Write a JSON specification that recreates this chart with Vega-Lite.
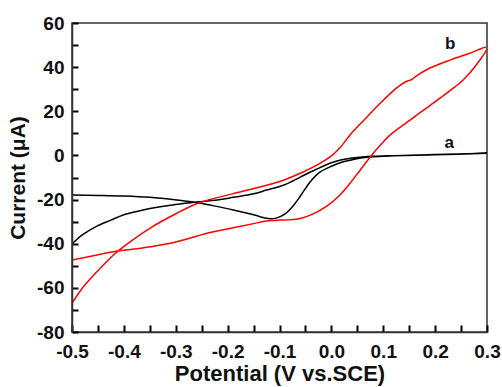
{
  "$schema": "https://vega.github.io/schema/vega-lite/v6.json",
  "width": 415,
  "height": 309,
  "autosize": {"type": "none"},
  "padding": {"left": 72, "top": 23, "right": 15, "bottom": 55},
  "background": "white",
  "config": {
    "view": {"stroke": "#333333", "strokeWidth": 1.5},
    "font": "Liberation Sans",
    "axis": {
      "grid": false,
      "labelFont": "Liberation Sans",
      "labelFontWeight": "bold",
      "labelFontSize": 19,
      "labelColor": "#111111",
      "titleFont": "Liberation Sans",
      "titleFontWeight": "bold",
      "titleColor": "#111111",
      "labelFlush": false,
      "labelOverlap": false
    }
  },
  "datasets": {
    "curves": [
      {"s": "a", "o": 1, "V": -0.5, "I": -40.1},
      {"s": "a", "o": 2, "V": -0.48, "I": -36.0},
      {"s": "a", "o": 3, "V": -0.452, "I": -32.0},
      {"s": "a", "o": 4, "V": -0.425, "I": -29.3},
      {"s": "a", "o": 5, "V": -0.401, "I": -27.0},
      {"s": "a", "o": 6, "V": -0.375, "I": -25.4},
      {"s": "a", "o": 7, "V": -0.35, "I": -24.0},
      {"s": "a", "o": 8, "V": -0.3, "I": -22.2},
      {"s": "a", "o": 9, "V": -0.26, "I": -21.1},
      {"s": "a", "o": 10, "V": -0.22, "I": -20.2},
      {"s": "a", "o": 11, "V": -0.189, "I": -19.0},
      {"s": "a", "o": 12, "V": -0.15, "I": -17.4},
      {"s": "a", "o": 13, "V": -0.125, "I": -15.7},
      {"s": "a", "o": 14, "V": -0.09, "I": -13.3},
      {"s": "a", "o": 15, "V": -0.06, "I": -9.8},
      {"s": "a", "o": 16, "V": -0.03, "I": -6.4},
      {"s": "a", "o": 17, "V": 0.0, "I": -3.3},
      {"s": "a", "o": 18, "V": 0.02, "I": -2.0},
      {"s": "a", "o": 19, "V": 0.04, "I": -1.2},
      {"s": "a", "o": 20, "V": 0.06, "I": -0.7},
      {"s": "a", "o": 21, "V": 0.08, "I": -0.4},
      {"s": "a", "o": 22, "V": 0.12, "I": -0.1},
      {"s": "a", "o": 23, "V": 0.2, "I": 0.4},
      {"s": "a", "o": 24, "V": 0.3, "I": 1.0},
      {"s": "a", "o": 25, "V": 0.2, "I": 0.3},
      {"s": "a", "o": 26, "V": 0.12, "I": -0.2},
      {"s": "a", "o": 27, "V": 0.08, "I": -0.6},
      {"s": "a", "o": 28, "V": 0.06, "I": -1.1},
      {"s": "a", "o": 29, "V": 0.04, "I": -2.0},
      {"s": "a", "o": 30, "V": 0.02, "I": -3.1},
      {"s": "a", "o": 31, "V": 0.0, "I": -4.9},
      {"s": "a", "o": 32, "V": -0.022, "I": -7.6},
      {"s": "a", "o": 33, "V": -0.041, "I": -12.0},
      {"s": "a", "o": 34, "V": -0.06, "I": -18.5},
      {"s": "a", "o": 35, "V": -0.075, "I": -23.2},
      {"s": "a", "o": 36, "V": -0.09, "I": -26.6},
      {"s": "a", "o": 37, "V": -0.105, "I": -28.3},
      {"s": "a", "o": 38, "V": -0.118, "I": -28.7},
      {"s": "a", "o": 39, "V": -0.13, "I": -28.2},
      {"s": "a", "o": 40, "V": -0.15, "I": -26.9},
      {"s": "a", "o": 41, "V": -0.189, "I": -24.7},
      {"s": "a", "o": 42, "V": -0.234, "I": -22.5},
      {"s": "a", "o": 43, "V": -0.26, "I": -21.3},
      {"s": "a", "o": 44, "V": -0.298, "I": -20.2},
      {"s": "a", "o": 45, "V": -0.35, "I": -19.0},
      {"s": "a", "o": 46, "V": -0.4, "I": -18.4},
      {"s": "a", "o": 47, "V": -0.45, "I": -18.1},
      {"s": "a", "o": 48, "V": -0.5, "I": -17.9},
      {"s": "b", "o": 1, "V": -0.5, "I": -47.4},
      {"s": "b", "o": 2, "V": -0.452, "I": -45.1},
      {"s": "b", "o": 3, "V": -0.42, "I": -43.6},
      {"s": "b", "o": 4, "V": -0.38, "I": -42.4},
      {"s": "b", "o": 5, "V": -0.34, "I": -41.0},
      {"s": "b", "o": 6, "V": -0.298, "I": -39.1},
      {"s": "b", "o": 7, "V": -0.26, "I": -36.6},
      {"s": "b", "o": 8, "V": -0.234, "I": -34.9},
      {"s": "b", "o": 9, "V": -0.189, "I": -32.8},
      {"s": "b", "o": 10, "V": -0.15, "I": -30.9},
      {"s": "b", "o": 11, "V": -0.125, "I": -29.7},
      {"s": "b", "o": 12, "V": -0.1, "I": -29.3},
      {"s": "b", "o": 13, "V": -0.08, "I": -29.2},
      {"s": "b", "o": 14, "V": -0.06, "I": -28.6},
      {"s": "b", "o": 15, "V": -0.035, "I": -26.5},
      {"s": "b", "o": 16, "V": -0.009, "I": -23.0},
      {"s": "b", "o": 17, "V": 0.0166, "I": -17.9},
      {"s": "b", "o": 18, "V": 0.036, "I": -12.6},
      {"s": "b", "o": 19, "V": 0.055, "I": -6.8},
      {"s": "b", "o": 20, "V": 0.0745, "I": -0.8},
      {"s": "b", "o": 21, "V": 0.094, "I": 4.6},
      {"s": "b", "o": 22, "V": 0.113, "I": 9.2},
      {"s": "b", "o": 23, "V": 0.1516, "I": 16.0},
      {"s": "b", "o": 24, "V": 0.19, "I": 22.6},
      {"s": "b", "o": 25, "V": 0.2287, "I": 29.4},
      {"s": "b", "o": 26, "V": 0.254, "I": 34.2},
      {"s": "b", "o": 27, "V": 0.28, "I": 41.2},
      {"s": "b", "o": 28, "V": 0.3, "I": 49.0},
      {"s": "b", "o": 29, "V": 0.267, "I": 46.3},
      {"s": "b", "o": 30, "V": 0.2287, "I": 43.2},
      {"s": "b", "o": 31, "V": 0.19, "I": 39.6},
      {"s": "b", "o": 32, "V": 0.165, "I": 36.2},
      {"s": "b", "o": 33, "V": 0.155, "I": 34.4},
      {"s": "b", "o": 34, "V": 0.145, "I": 33.6},
      {"s": "b", "o": 35, "V": 0.126, "I": 30.6},
      {"s": "b", "o": 36, "V": 0.094, "I": 23.6},
      {"s": "b", "o": 37, "V": 0.065, "I": 16.5},
      {"s": "b", "o": 38, "V": 0.036, "I": 9.3},
      {"s": "b", "o": 39, "V": 0.0166, "I": 3.5},
      {"s": "b", "o": 40, "V": 0.0, "I": -0.2},
      {"s": "b", "o": 41, "V": -0.022, "I": -3.6},
      {"s": "b", "o": 42, "V": -0.06, "I": -8.1},
      {"s": "b", "o": 43, "V": -0.09, "I": -11.0},
      {"s": "b", "o": 44, "V": -0.125, "I": -13.5},
      {"s": "b", "o": 45, "V": -0.189, "I": -17.3},
      {"s": "b", "o": 46, "V": -0.234, "I": -20.0},
      {"s": "b", "o": 47, "V": -0.26, "I": -21.9},
      {"s": "b", "o": 48, "V": -0.298, "I": -26.2},
      {"s": "b", "o": 49, "V": -0.35, "I": -33.0},
      {"s": "b", "o": 50, "V": -0.401, "I": -41.4},
      {"s": "b", "o": 51, "V": -0.42, "I": -45.1},
      {"s": "b", "o": 52, "V": -0.452, "I": -52.7},
      {"s": "b", "o": 53, "V": -0.478, "I": -59.5},
      {"s": "b", "o": 54, "V": -0.5, "I": -67.0}
    ],
    "labels": [
      {"s": "a", "V": 0.227, "I": 5.6},
      {"s": "b", "V": 0.229, "I": 50.5}
    ]
  },
  "encoding": {
    "x": {
      "field": "V", "type": "quantitative",
      "scale": {"domain": [-0.5, 0.3], "nice": false, "zero": false},
      "axis": {
        "title": "Potential (V vs.SCE)",
        "titleFontSize": 22,
        "titlePadding": 2,
        "values": [-0.5, -0.45, -0.4, -0.35, -0.3, -0.25, -0.2, -0.15, -0.1, -0.05, 0, 0.05, 0.1, 0.15, 0.2, 0.25, 0.3],
        "labelExpr": "abs(datum.value*10 - round(datum.value*10)) < 0.001 ? (datum.value < -0.001 ? '-' : '') + format(abs(datum.value), '.1f') : ''",
        "domainColor": "#333333",
        "domainWidth": 1.5,
        "ticks": true,
        "tickColor": "#000000",
        "tickWidth": 2,
        "tickSize": -7,
        "labelPadding": 17,
        "zindex": 2
      }
    },
    "y": {
      "field": "I", "type": "quantitative",
      "scale": {"domain": [-80, 60], "nice": false, "zero": false},
      "axis": {
        "title": "Current (μA)",
        "titleFontSize": 21,
        "titlePadding": 8,
        "values": [-80, -70, -60, -50, -40, -30, -20, -10, 0, 10, 20, 30, 40, 50, 60],
        "labelExpr": "datum.value % 20 === 0 ? (datum.value < 0 ? '-' : '') + abs(datum.value) : ''",
        "domainColor": "#333333",
        "domainWidth": 1.5,
        "ticks": true,
        "tickColor": "#000000",
        "tickWidth": 2,
        "tickSize": -6,
        "labelPadding": 14,
        "zindex": 2
      }
    }
  },
  "layer": [
    {
      "data": {"name": "curves"},
      "mark": {"type": "line", "strokeWidth": 1.5, "clip": true, "interpolate": "catmull-rom"},
      "encoding": {
        "order": {"field": "o", "type": "quantitative"},
        "color": {
          "field": "s", "type": "nominal",
          "scale": {"domain": ["a", "b"], "range": ["#000000", "#ff0000"]},
          "legend": null
        }
      }
    },
    {
      "data": {"name": "labels"},
      "mark": {"type": "text", "font": "Liberation Sans", "fontWeight": "bold", "fontSize": 17, "color": "#111111", "align": "center", "baseline": "middle"},
      "encoding": {
        "text": {"field": "s", "type": "nominal"}
      }
    }
  ]
}
